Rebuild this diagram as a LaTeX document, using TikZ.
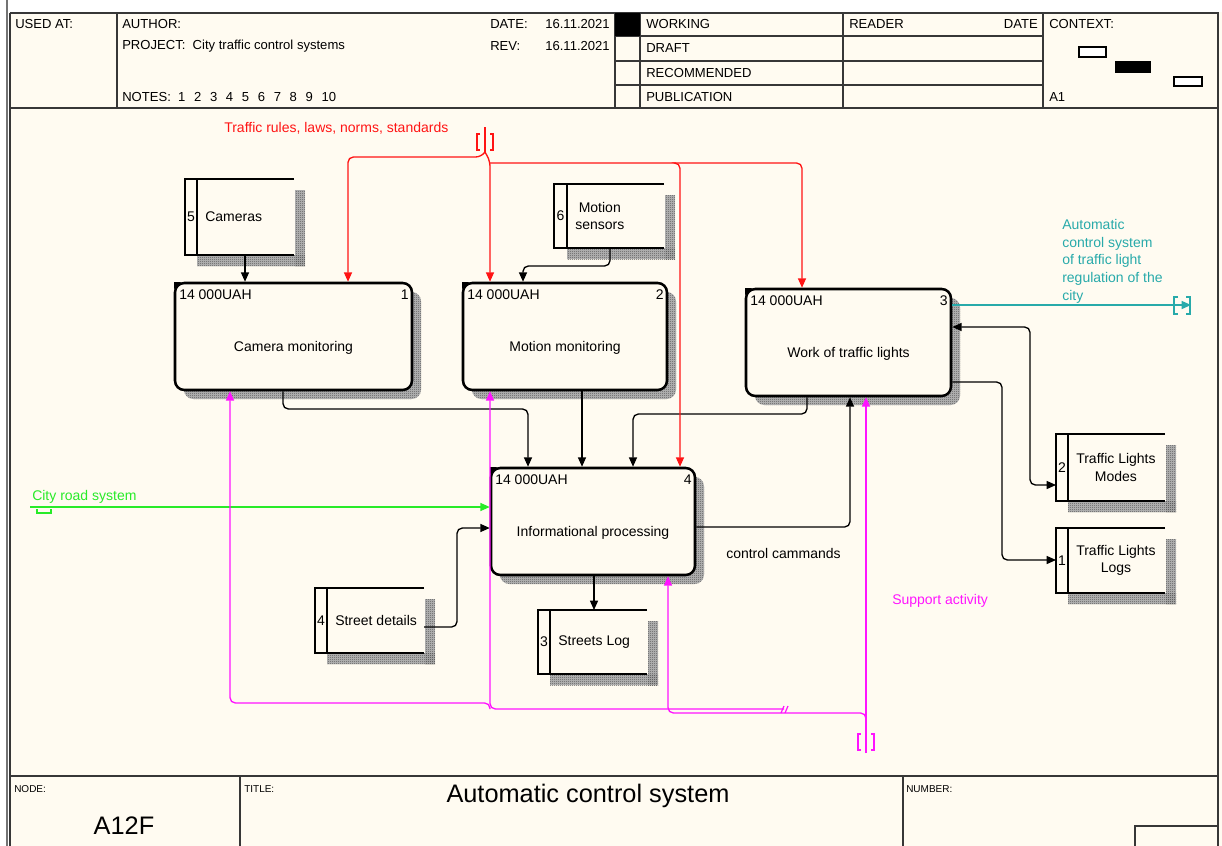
\documentclass[tikz,border=0pt]{standalone}
\usepackage{fontspec}
\setmainfont{Liberation Sans}
\usetikzlibrary{arrows.meta,patterns}

\definecolor{bg}{RGB}{255,251,241}
\definecolor{frm}{RGB}{55,55,55}
\definecolor{redc}{RGB}{255,20,20}
\definecolor{greenc}{RGB}{40,235,40}
\definecolor{tealc}{RGB}{40,170,170}
\definecolor{magc}{RGB}{255,20,255}
\definecolor{shade}{RGB}{85,85,85}
\definecolor{shadebase}{RGB}{185,185,185}

% fine one-pixel checker used for the drop shadows
\pgfdeclarepatternformonly{finecheck}{\pgfpointorigin}{\pgfpoint{1.5pt}{1.5pt}}{\pgfpoint{1.5pt}{1.5pt}}{%
  \pgfpathrectangle{\pgfpointorigin}{\pgfpoint{0.75pt}{0.75pt}}%
  \pgfpathrectangle{\pgfpoint{0.75pt}{0.75pt}}{\pgfpoint{0.75pt}{0.75pt}}%
  \pgfusepath{fill}}

\newcommand\pxu{0.75pt}

% activity box: name, x1, y1, x2, y2, number, label
\newcommand\procbox[7]{%
  \pgfmathsetmacro\pbcx{(#2+#4)/2}\pgfmathsetmacro\pbcy{(#3+#5)/2}%
  \pgfmathsetmacro\pbw{#4-#2}\pgfmathsetmacro\pbh{#5-#3}%
  \fill[shadebase, rounded corners=7pt] (#2+9,#3+9) rectangle (#4+9,#5+9);
  \fill[pattern=finecheck, pattern color=shade, rounded corners=7pt] (#2+9,#3+9) rectangle (#4+9,#5+9);
  \node[process, minimum width=\pbw*\pxu, minimum height=\pbh*\pxu] (#1) at (\pbcx,\pbcy) {};
  \fill (#2-1,#3+6) -- (#2-1,#3-1) -- (#2+6,#3-1) -- cycle;
  \node[lbl, anchor=west] (#1-cost) at (#2+4,#3+12) {14 000UAH};
  \node[lbl, anchor=east] (#1-num) at (#4-3,#3+12) {#6};
  \node[lbl] (#1-txt) at (\pbcx,\pbcy+11) {#7};
}

% data store: name, x1, strip x, x2, y1, y2, number, label
\newcommand\store[8]{%
  \pgfmathsetmacro\stcx{(#2+#4)/2}\pgfmathsetmacro\stcy{(#5+#6)/2}%
  \pgfmathsetmacro\stw{#4-#2}\pgfmathsetmacro\sth{#6-#5}%
  \fill[shadebase] (#4+1,#5+11) rectangle (#4+11,#6+11);
  \fill[shadebase] (#3,#6) rectangle (#4+11,#6+11);
  \fill[pattern=finecheck, pattern color=shade] (#4+1,#5+11) rectangle (#4+11,#6+11);
  \fill[pattern=finecheck, pattern color=shade] (#3,#6) rectangle (#4+11,#6+11);
  \node[storeframe, minimum width=\stw*\pxu, minimum height=\sth*\pxu] (#1) at (\stcx,\stcy) {};
  \draw[storeline] (#1.north east) -- (#1.north west) -- (#1.south west) -- (#1.south east);
  \draw[storeline] (#3,#5) -- (#3,#6);
  \node[lbl] (#1-num) at ({(#2+#3)/2},\stcy) {#7};
  \node[lbl, anchor=west, align=center] (#1-txt) at (#3+8,\stcy) {#8};
}

\begin{document}
\begin{tikzpicture}[x=0.75pt, y=-0.75pt,
  lbl/.style={font=\fontsize{10.5}{13.3}\selectfont, inner sep=0pt},
  hdr/.style={font=\fontsize{9.8}{11}\selectfont, inner sep=0pt, anchor=west},
  tiny/.style={font=\fontsize{7.5}{9}\selectfont, inner sep=0pt, anchor=west},
  big/.style={font=\fontsize{19}{22}\selectfont, inner sep=0pt},
  frame/.style={draw=frm, line width=1pt},
  process/.style={draw, line width=1.9pt, rounded corners=7pt, fill=bg, inner sep=0pt},
  storeframe/.style={fill=bg, inner sep=0pt, outer sep=0pt},
  storeline/.style={line width=1.6pt},
  flow/.style={line width=1pt, rounded corners=4pt, -{Triangle[length=7pt,width=6pt]}},
  flowboth/.style={line width=1pt, rounded corners=4pt, {Triangle[length=7pt,width=6pt]}-{Triangle[length=7pt,width=6pt]}},
  tunnel/.style={line width=0.9pt}
]
\useasboundingbox (0,0) rectangle (1222,846);
\fill[white] (0,0) rectangle (1222,846);
\fill[bg] (9,12) rectangle (1222,846);
\draw[black!55, line width=1.6pt] (7,0) -- (7,846);

% ---- form frame ----
\draw[frame] (10,13) -- (1218,13) -- (1218,846);
\draw[frame] (10,13) -- (10,846);
\draw[frame] (10,108) -- (1218,108);
\draw[frame] (10,776) -- (1218,776);
\foreach \x in {117,615,640,843,1043} \draw[frame] (\x,13) -- (\x,108);
\foreach \y in {36,61,85} \draw[frame] (615,\y) -- (1043,\y);
\fill (615,13) rectangle (640,36);
\draw[frame] (240,776) -- (240,846);
\draw[frame] (903,776) -- (903,846);
\draw[frame] (1135,846) -- (1135,826) -- (1218,826);

% ---- header texts ----
\node[hdr] (h-used) at (15,24) {USED AT:};
\node[hdr] (h-author) at (122,24) {AUTHOR:};
\node[hdr] (h-project) at (122,46) {PROJECT:\ \ City traffic control systems};
\node[hdr] (h-notes) at (122,97) {NOTES:\ \ 1\hspace{6.5pt}2\hspace{6.5pt}3\hspace{6.5pt}4\hspace{6.5pt}5\hspace{6.5pt}6\hspace{6.5pt}7\hspace{6.5pt}8\hspace{6.5pt}9\hspace{6.5pt}10};
\node[hdr] (h-date) at (490,24) {DATE:};
\node[hdr, anchor=east] (h-dateval) at (610,24) {16.11.2021};
\node[hdr] (h-rev) at (490,46) {REV:};
\node[hdr, anchor=east] (h-revval) at (610,46) {16.11.2021};
\node[hdr] (h-working) at (646,24) {WORKING};
\node[hdr] (h-draft) at (646,48) {DRAFT};
\node[hdr] (h-recom) at (646,73) {RECOMMENDED};
\node[hdr] (h-pub) at (646,97) {PUBLICATION};
\node[hdr] (h-reader) at (849,24) {READER};
\node[hdr, anchor=east] (h-rdate) at (1038,24) {DATE};
\node[hdr] (h-context) at (1049,24) {CONTEXT:};
\node[hdr] (h-a1) at (1049,97) {A1};
\draw[line width=0.9pt, fill=white] (1079,47) rectangle (1106,57);
\fill (1115,61) rectangle (1151,73);
\draw[line width=0.9pt, fill=white] (1174,77) rectangle (1202,86);

% ---- footer texts ----
\node[tiny] (f-node) at (14,789) {NODE:};
\node[big] (f-a12f) at (124,826) {A12F};
\node[tiny] (f-title) at (244,789) {TITLE:};
\node[big] (f-name) at (588,796) {Automatic control system};
\node[tiny] (f-number) at (906,789) {NUMBER:};

% ---- activities ----
\procbox{cammon}{175}{283}{412}{390}{1}{Camera monitoring}
\procbox{motmon}{463}{283}{667}{390}{2}{Motion monitoring}
\procbox{worktl}{746}{289}{951}{396}{3}{Work of traffic lights}
\procbox{infoproc}{491}{468}{695}{575}{4}{Informational processing}

% ---- data stores ----
\store{cameras}{185}{197}{294}{179}{255}{5}{Cameras}
\store{motsens}{554}{567}{664}{184}{248}{6}{Motion\\sensors}
\store{streetdet}{315}{327}{424}{588}{653}{4}{Street details}
\store{streetslog}{538}{550}{647}{610}{674}{3}{Streets Log}
\store{tlmodes}{1056}{1068}{1165}{434}{501}{2}{Traffic Lights\\Modes}
\store{tllogs}{1056}{1068}{1165}{528}{593}{1}{Traffic Lights\\Logs}

% ---- data flows ----
\draw[flow] (245,0 |- cameras.south) -- (245,0 |- cammon.north);
\draw[flow] (610,0 |- motsens.south) |- (523,266) -- (523,0 |- motmon.north);
\draw[flow] (283,0 |- cammon.south) |- (528,409) -- (528,0 |- infoproc.north);
\draw[flow] (582,0 |- motmon.south) -- (582,0 |- infoproc.north);
\draw[flow] (807,0 |- worktl.south) |- (633,414) -- (633,0 |- infoproc.north);
\draw[flow] (streetdet.east |- 0,627) -| (457,528) -- (infoproc.west |- 0,528);
\draw[flow] (594,0 |- infoproc.south) -- (594,0 |- streetslog.north);
\draw[flow] (infoproc.east |- 0,527) -| (850,0 |- worktl.south);
\draw[flowboth] (worktl.east |- 0,327) -| (1030,485) -- (tlmodes.west |- 0,485);
\draw[flow] (worktl.east |- 0,382) -| (1002,560) -- (tllogs.west |- 0,560);

% ---- controls (red) ----
\coordinate (redsrc) at (485,127);
\coordinate (redfork) at (485,152);
\coordinate (redbus) at (490,163);
\coordinate (redtap) at (676,163);
\draw[redc, line width=1pt] (redsrc) -- (redfork);
\draw[flow, redc] (redfork) -- (481,157) -| (348,0 |- cammon.north);
\draw[flow, redc] (redfork) -- (490,161) -- (490,0 |- motmon.north);
\draw[flow, redc] (redbus) -| (802,0 |- worktl.north);
\draw[flow, redc] (redtap) -| (680,0 |- infoproc.north);
\draw[tunnel, redc] (480,134) -- (477,134) -- (477,150) -- (480,150);
\draw[tunnel, redc] (490,134) -- (493,134) -- (493,150) -- (490,150);

% ---- input (green) ----
\coordinate (greensrc) at (30,507);
\draw[flow, greenc] (greensrc) -- (infoproc.west |- 0,507);
\draw[tunnel, greenc] (37,509) -- (37,513) -- (51,513) -- (51,509);

% ---- output (teal) ----
\coordinate (tealdst) at (1191,305);
\draw[flow, tealc] (worktl.east |- 0,305) -- (tealdst);
\draw[tunnel, tealc] (1178,297) -- (1174,297) -- (1174,314) -- (1178,314);
\draw[tunnel, tealc] (1186,297) -- (1190,297) -- (1190,314) -- (1186,314);

% ---- mechanisms (magenta) ----
\coordinate (magsrc) at (866,753);
\coordinate (magbus) at (866,722);
\coordinate (magmid) at (784,709);
\coordinate (magleft) at (490,709);
\draw[flow, magc] (magsrc) -- (866,0 |- worktl.south);
\draw[flow, magc] (magbus) |- (668,713) -- (668,0 |- infoproc.south);
\draw[flow, magc] (magmid) -| (490,0 |- motmon.south);
\draw[flow, magc] (magleft) |- (230,703) -- (230,0 |- cammon.south);
\draw[tunnel, magc] (781,713) -- (784,706);
\draw[tunnel, magc] (785,713) -- (788,706);
\draw[tunnel, magc] (861,734) -- (858,734) -- (858,750) -- (861,750);
\draw[tunnel, magc] (871,734) -- (874,734) -- (874,750) -- (871,750);

% ---- arrow labels ----
\node[lbl, text=redc, anchor=west] (lbl-rules) at (224,128) {Traffic rules, laws, norms, standards};
\node[lbl, anchor=west] (lbl-cmd) at (726,553) {control cammands};
\node[lbl, text=magc, anchor=west] (lbl-support) at (892,601) {Support activity};
\node[lbl, text=greenc, anchor=west] (lbl-road) at (32,497) {City road system};
\node[lbl, text=tealc, anchor=north west, align=left] (lbl-auto) at (1062,219)
  {Automatic\\control system\\of traffic light\\regulation of the\\city};
\end{tikzpicture}
\end{document}
